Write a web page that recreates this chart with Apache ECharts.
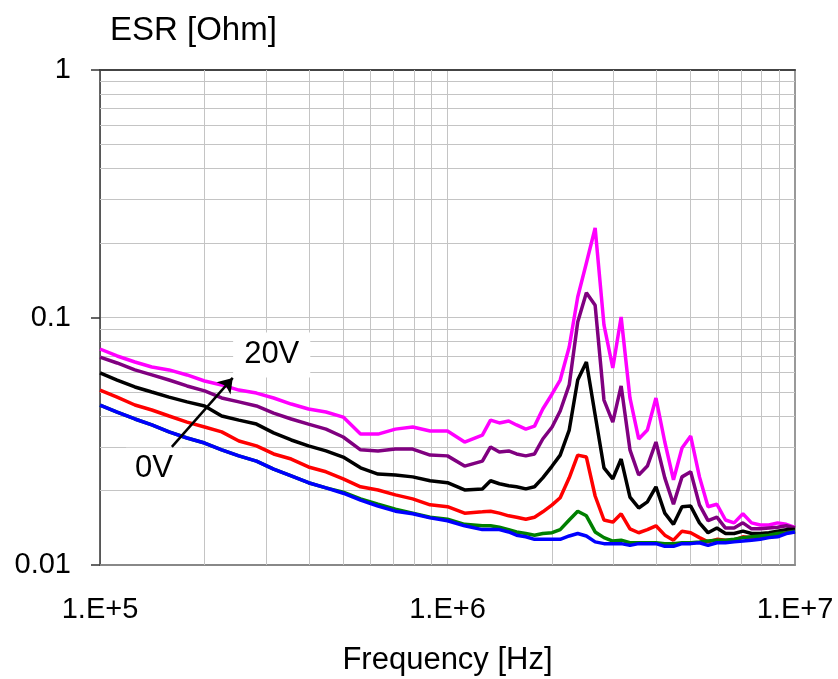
<!DOCTYPE html>
<html>
<head>
<meta charset="utf-8">
<script src="https://cdn.jsdelivr.net/npm/echarts@6/dist/echarts.min.js"></script>
<style>
  html, body { margin: 0; padding: 0; background: #fff; }
  #esr { width: 838px; height: 679px; }
</style>
</head>
<body>
<div id="esr"></div>
<script>
// frequency points [Hz]
const freqs = [1.00e5, 1.12e5, 1.26e5, 1.41e5, 1.58e5, 1.78e5, 2.00e5, 2.24e5, 2.51e5, 2.82e5,
  3.16e5, 3.55e5, 3.98e5, 4.47e5, 5.01e5, 5.62e5, 6.31e5, 7.08e5, 7.94e5, 8.91e5,
  1.00e6, 1.12e6, 1.26e6, 1.33e6, 1.41e6, 1.50e6, 1.58e6, 1.68e6, 1.78e6, 1.88e6,
  2.00e6, 2.11e6, 2.24e6, 2.37e6, 2.51e6, 2.66e6, 2.82e6, 2.99e6, 3.16e6, 3.35e6,
  3.55e6, 3.76e6, 3.98e6, 4.22e6, 4.47e6, 4.73e6, 5.01e6, 5.31e6, 5.62e6, 5.96e6,
  6.31e6, 6.68e6, 7.08e6, 7.50e6, 7.94e6, 8.41e6, 8.91e6, 9.44e6, 1.00e7];

// ESR [Ohm] per bias voltage
const esr20V = [0.0746, 0.0699, 0.0661, 0.0631, 0.0614, 0.0586, 0.0554, 0.0534, 0.0509, 0.0495,
  0.0473, 0.0447, 0.0427, 0.0415, 0.0396, 0.0338, 0.0338, 0.0354, 0.0361, 0.0348,
  0.0348, 0.0314, 0.0335, 0.0385, 0.0375, 0.0382, 0.0368, 0.0354, 0.0364, 0.0427,
  0.0491, 0.0559, 0.0760, 0.121, 0.166, 0.230, 0.0933, 0.0625, 0.1005, 0.0473,
  0.0323, 0.0351, 0.0473, 0.0314, 0.0221, 0.0297, 0.0332, 0.0227, 0.0172, 0.0176,
  0.0152, 0.0148, 0.0161, 0.0148, 0.0145, 0.0145, 0.0148, 0.0146, 0.0142];
const esr15V = [0.0692, 0.0655, 0.0614, 0.0586, 0.0559, 0.0529, 0.0505, 0.0473, 0.0456, 0.0439,
  0.0411, 0.0389, 0.0371, 0.0354, 0.0329, 0.0292, 0.0289, 0.0294, 0.0294, 0.0278,
  0.0276, 0.0251, 0.0263, 0.0300, 0.0286, 0.0289, 0.0281, 0.0276, 0.0281, 0.0323,
  0.0361, 0.0419, 0.0534, 0.0959, 0.126, 0.112, 0.0464, 0.0378, 0.0529, 0.0292,
  0.0231, 0.0251, 0.0314, 0.0225, 0.0176, 0.0227, 0.0238, 0.0175, 0.0151, 0.0156,
  0.0141, 0.0141, 0.0148, 0.0140, 0.0140, 0.0141, 0.0142, 0.0144, 0.0141];
const esr10V = [0.0597, 0.0559, 0.0524, 0.0500, 0.0477, 0.0456, 0.0439, 0.0400, 0.0385, 0.0371,
  0.0342, 0.0320, 0.0303, 0.0289, 0.0273, 0.0247, 0.0233, 0.0231, 0.0227, 0.0219,
  0.0215, 0.0201, 0.0203, 0.0219, 0.0213, 0.0209, 0.0207, 0.0203, 0.0207, 0.0225,
  0.0251, 0.0278, 0.0351, 0.0559, 0.0661, 0.0404, 0.0247, 0.0223, 0.0268, 0.0188,
  0.0170, 0.0180, 0.0207, 0.0162, 0.0146, 0.0172, 0.0173, 0.0148, 0.0135, 0.0141,
  0.0134, 0.0134, 0.0137, 0.0134, 0.0134, 0.0135, 0.0137, 0.0139, 0.0139];
const esr5V = [0.0509, 0.0477, 0.0443, 0.0423, 0.0400, 0.0378, 0.0361, 0.0345, 0.0317, 0.0303,
  0.0281, 0.0268, 0.0249, 0.0238, 0.0223, 0.0207, 0.0201, 0.0192, 0.0185, 0.0175,
  0.0172, 0.0162, 0.0164, 0.0165, 0.0162, 0.0158, 0.0156, 0.0153, 0.0156, 0.0164,
  0.0175, 0.0187, 0.0225, 0.0278, 0.0273, 0.0190, 0.0152, 0.0149, 0.0161, 0.0140,
  0.0135, 0.0139, 0.0144, 0.0132, 0.0126, 0.0137, 0.0135, 0.0129, 0.0124, 0.0127,
  0.0126, 0.0126, 0.0130, 0.0129, 0.0129, 0.0130, 0.0132, 0.0135, 0.0136];
const esr2V = [0.0443, 0.0415, 0.0389, 0.0368, 0.0345, 0.0326, 0.0311, 0.0292, 0.0276, 0.0263,
  0.0244, 0.0229, 0.0215, 0.0205, 0.0197, 0.0185, 0.0176, 0.0168, 0.0162, 0.0156,
  0.0153, 0.0146, 0.0144, 0.0144, 0.0142, 0.0139, 0.0136, 0.0134, 0.0132, 0.0134,
  0.0135, 0.0139, 0.0152, 0.0165, 0.0158, 0.0136, 0.0129, 0.0125, 0.0126, 0.0123,
  0.0123, 0.0123, 0.0123, 0.0122, 0.0122, 0.0123, 0.0123, 0.0124, 0.0125, 0.0126,
  0.0126, 0.0127, 0.0129, 0.0130, 0.0131, 0.0132, 0.0134, 0.0135, 0.0137];
const esr0V = [0.0443, 0.0415, 0.0389, 0.0368, 0.0345, 0.0326, 0.0311, 0.0292, 0.0276, 0.0263,
  0.0244, 0.0229, 0.0215, 0.0205, 0.0195, 0.0183, 0.0173, 0.0165, 0.0161, 0.0155,
  0.0151, 0.0144, 0.0139, 0.0139, 0.0139, 0.0136, 0.0132, 0.0130, 0.0127, 0.0127,
  0.0127, 0.0127, 0.0131, 0.0134, 0.0131, 0.0124, 0.0122, 0.0122, 0.0122, 0.0120,
  0.0122, 0.0122, 0.0122, 0.0119, 0.0119, 0.0122, 0.0122, 0.0123, 0.0120, 0.0123,
  0.0123, 0.0124, 0.0125, 0.0126, 0.0127, 0.0129, 0.0130, 0.0134, 0.0136];

// minor grid positions (Excel style 2..9 per decade)
const xMinorGrid = [2e5, 3e5, 4e5, 5e5, 6e5, 7e5, 8e5, 9e5, 2e6, 3e6, 4e6, 5e6, 6e6, 7e6, 8e6, 9e6];
const yMinorGrid = [0.02, 0.03, 0.04, 0.05, 0.06, 0.07, 0.08, 0.09, 0.2, 0.3, 0.4, 0.5, 0.6, 0.7, 0.8, 0.9];

const chart = echarts.init(document.getElementById('esr'));
const font = "'Liberation Sans', Arial, sans-serif";
const gridColor = '#c4c4c4';

function curve(vals, color) {
  return {
    type: 'line',
    data: freqs.map((f, i) => [f, vals[i]]),
    symbol: 'none',
    z: 3,
    lineStyle: { color: color, width: 3.5 },
    itemStyle: { color: color }
  };
}

const option = {
  animation: false,
  backgroundColor: '#fff',
  textStyle: { fontFamily: font, color: '#000' },
  grid: { left: 100, right: 43, top: 70, bottom: 114, outerBoundsMode: 'none' },
  xAxis: [
    {
      type: 'log',
      logBase: 10,
      min: 1e5,
      max: 1e7,
      name: 'Frequency [Hz]',
      nameLocation: 'middle',
      nameGap: 80,
      nameTextStyle: { fontSize: 31, color: '#000', fontFamily: font },
      axisLine: { lineStyle: { color: '#888', width: 2 } },
      axisTick: { show: false },
      axisLabel: {
        margin: 30,
        fontSize: 29,
        color: '#000',
        fontFamily: font,
        formatter: v => '1.E+' + Math.round(Math.log10(v))
      },
      splitLine: { show: true, lineStyle: { color: gridColor, width: 1 } }
    },
    {
      type: 'log',
      position: 'top',
      min: 1e5,
      max: 1e7,
      axisLine: { lineStyle: { color: '#444', width: 2 } },
      axisTick: { show: false },
      axisLabel: { show: false },
      splitLine: { show: false }
    }
  ],
  yAxis: [
    {
      type: 'log',
      logBase: 10,
      min: 0.01,
      max: 1,
      name: 'ESR [Ohm]',
      nameLocation: 'end',
      nameGap: 23,
      nameTextStyle: { fontSize: 33, color: '#000', fontFamily: font, align: 'left', padding: [0, 0, 0, 10] },
      axisLine: { show: true, lineStyle: { color: '#333', width: 1.5 } },
      axisTick: { show: true, length: 9, lineStyle: { color: '#333', width: 1.5 } },
      axisLabel: {
        margin: 29,
        fontSize: 29,
        color: '#000',
        fontFamily: font,
        formatter: v => String(+v.toPrecision(3))
      },
      splitLine: { show: true, lineStyle: { color: gridColor, width: 1 } }
    },
    {
      type: 'log',
      position: 'right',
      min: 0.01,
      max: 1,
      axisLine: { show: true, lineStyle: { color: '#999', width: 2 } },
      axisTick: { show: false },
      axisLabel: { show: false },
      splitLine: { show: false }
    }
  ],
  series: [
    {
      // minor gridlines
      type: 'line',
      data: [],
      z: 1,
      markLine: {
        silent: true,
        z: 1,
        symbol: 'none',
        animation: false,
        label: { show: false },
        lineStyle: { color: gridColor, width: 1, type: 'solid' },
        data: xMinorGrid.map(x => ({ xAxis: x })).concat(yMinorGrid.map(y => ({ yAxis: y })))
      }
    },
    {
      // label boxes and arrow
      type: 'line',
      data: [],
      z: 2,
      markPoint: {
        z: 2,
        symbol: 'rect',
        symbolSize: 0,
        label: {
          show: true,
          position: 'inside',
          formatter: '{b}',
          fontSize: 31,
          fontFamily: font,
          color: '#000',
          backgroundColor: '#fff'
        },
        data: [
          { name: '20V', coord: [3.12e5, 0.0706], label: { padding: [7, 11, 7, 11] } },
          { name: '0V', coord: [1.43e5, 0.0246], label: { padding: [5, 9, 5, 9] } }
        ]
      },
      markLine: {
        z: 6,
        silent: true,
        symbol: ['none', 'arrow'],
        symbolSize: 14,
        label: { show: false },
        lineStyle: { color: '#000', width: 2.5, type: 'solid' },
        data: [[{ coord: [1.61e5, 0.0300] }, { coord: [2.41e5, 0.0570] }]]
      }
    },
    curve(esr20V, '#ff00ff'),
    curve(esr15V, '#800080'),
    curve(esr10V, '#000000'),
    curve(esr5V, '#ff0000'),
    curve(esr2V, '#008000'),
    curve(esr0V, '#0000ff')
  ]
};

chart.setOption(option);
</script>
</body>
</html>
